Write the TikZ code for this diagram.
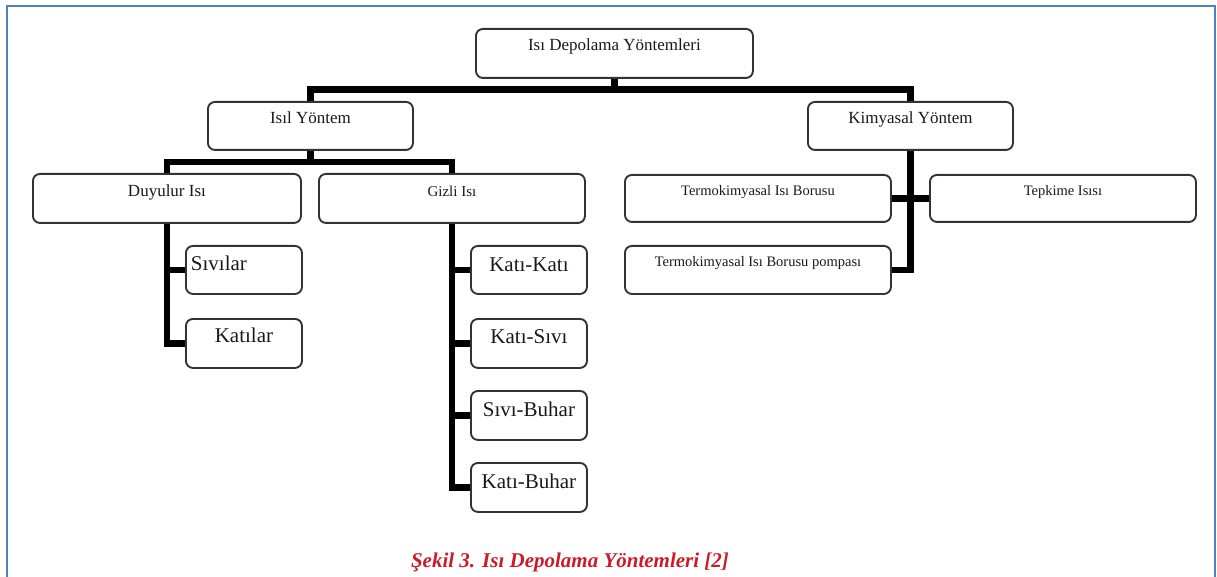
\documentclass[tikz,border=0pt]{standalone}
\usepackage{fontspec}
\setmainfont{Liberation Serif}
\definecolor{framecol}{RGB}{79,129,189}
\definecolor{capred}{RGB}{200,28,40}
\tikzset{
  box/.style={draw=black!80, line width=1.9pt, rounded corners=7pt, inner xsep=0pt, inner ysep=0pt, anchor=north west, text=black!90},
  fs/.style={font={\fontsize{#1}{#1}\selectfont}},
  conn/.style={line width=6.6pt, black, line join=miter},
}
\begin{document}
\begin{tikzpicture}[x=1pt,y=-1pt]
\useasboundingbox (0,0) rectangle (1217,577);
\draw[line width=2pt, framecol] (7,600) -- (7,6) -- (1215,6) -- (1215,600);

% level 0
\node[box, fs=17, minimum width=277, minimum height=49, text height=22pt, text depth=27pt] (top) at (475,28) {Isı Depolama Yöntemleri};
% level 1
\node[box, fs=17, minimum width=205, minimum height=48, text height=22pt, text depth=26pt] (isil) at (207,101) {Isıl Yöntem};
\node[box, fs=17, minimum width=205, minimum height=48, text height=22pt, text depth=26pt] (kim) at (807,101) {Kimyasal Yöntem};
% level 2
\node[box, fs=17, minimum width=268, minimum height=49, text height=23pt, text depth=26pt] (duy) at (32,173) {Duyulur Isı};
\node[box, fs=15, minimum width=266, minimum height=49, text height=23pt, text depth=26pt] (giz) at (318,173) {Gizli Isı};
\node[box, fs=14.5, minimum width=266, minimum height=47, text height=21pt, text depth=26pt] (tb) at (624,174) {Termokimyasal Isı Borusu};
\node[box, fs=14.5, minimum width=266, minimum height=47, text height=21pt, text depth=26pt] (tep) at (929,174) {Tepkime Isısı};
\node[box, fs=14.5, minimum width=266, minimum height=48, text height=21pt, text depth=27pt] (pom) at (624,245) {Termokimyasal Isı Borusu pompası};
% leaves
\node[box, fs=21, inner xsep=5pt, text width=106pt, align=left, minimum height=48, text height=25pt, text depth=23pt] (siv) at (185,245) {Sıvılar};
\node[box, fs=21, minimum width=116, minimum height=49, text height=24pt, text depth=25pt] (kat) at (185,318) {Katılar};
\node[box, fs=21, minimum width=116, minimum height=48, text height=26pt, text depth=22pt] (kk) at (470,245) {Katı-Katı};
\node[box, fs=21, minimum width=116, minimum height=49, text height=25pt, text depth=24pt] (ks) at (470,318) {Katı-Sıvı};
\node[box, fs=21, minimum width=116, minimum height=49, text height=26pt, text depth=23pt] (sb) at (470,390) {Sıvı-Buhar};
\node[box, fs=21, minimum width=116, minimum height=49, text height=26pt, text depth=23pt] (kbh) at (470,462) {Katı-Buhar};

% connectors
\draw[conn] (top.south) -- ++(0,12.5);
\draw[conn] (isil.north) -- ++(0,-11.5) -| (kim.north);
\draw[conn] (isil.south) -- ++(0,13);
\draw[conn] (duy.north) -- ++(0,-11) -| (giz.north);
\draw[conn] (duy.south) |- (kat.west);
\draw[conn] (duy.south |- siv.west) -- (siv.west);
\draw[conn] (giz.south) |- (kbh.west);
\draw[conn] (giz.south |- kk.west) -- (kk.west);
\draw[conn] (giz.south |- ks.west) -- (ks.west);
\draw[conn] (giz.south |- sb.west) -- (sb.west);
\draw[conn] (kim.south) |- (pom.east);
\draw[conn] (tb.east) -- (tep.west);

% caption
\node[font={\fontsize{21}{21}\bfseries\itshape\selectfont}, text=capred, anchor=base] (cap) at (570,567) {Şekil 3. Isı Depolama Yöntemleri [2]};
\end{tikzpicture}
\end{document}
